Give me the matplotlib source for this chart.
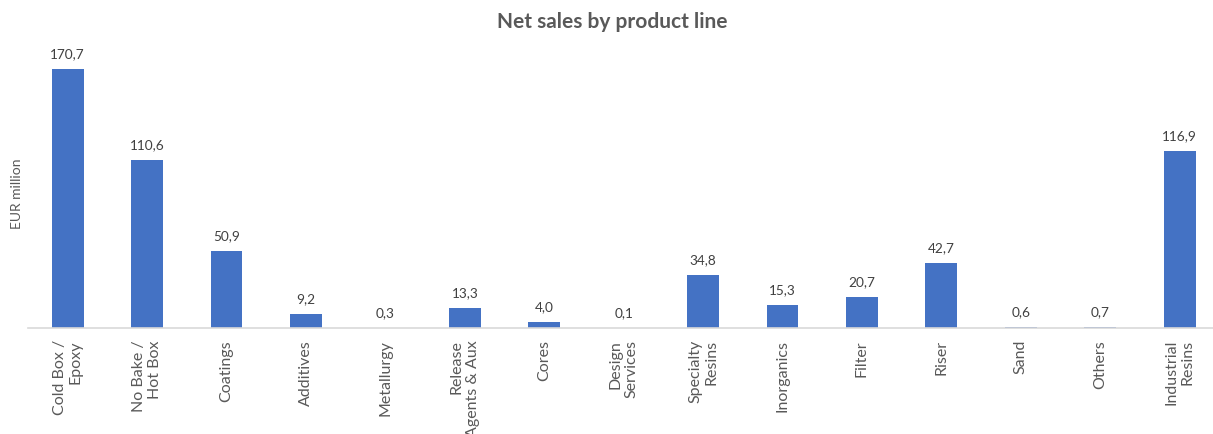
import matplotlib
matplotlib.use('Agg')
from matplotlib import pyplot as plt

# data
categories = ['Cold Box /\nEpoxy', 'No Bake /\nHot Box', 'Coatings', 'Additives',
              'Metallurgy', 'Release\nAgents & Aux', 'Cores', 'Design\nServices',
              'Specialty\nResins', 'Inorganics', 'Filter', 'Riser', 'Sand',
              'Others', 'Industrial\nResins']
net_sales = [170.7, 110.6, 50.9, 9.2, 0.3, 13.3, 4.0, 0.1,
             34.8, 15.3, 20.7, 42.7, 0.6, 0.7, 116.9]

plt.rcParams['font.family'] = ['Lato', 'DejaVu Sans']

fig = plt.figure(figsize=(12.13, 4.35), dpi=100)
ax = fig.add_axes([28 / 1213, 106 / 435, 1185 / 1213, 289 / 435])

x = list(range(len(categories)))
bars = ax.bar(x, net_sales, width=0.4, color='#4472C4')

# data labels with comma decimals
for xi, v in zip(x, net_sales):
    ax.annotate(f'{v:.1f}'.replace('.', ','), (xi, v), xytext=(0, 7),
                textcoords='offset points', ha='center', va='bottom',
                fontsize=9.8, color='#404040', clip_on=False)

ax.set_xlim(-0.5, 14.42)
ax.set_ylim(0, 190.5)
ax.set_xticks(x)
ax.set_xticklabels(categories, rotation=90, ha='center', va='top',
                   multialignment='right', fontsize=11.5, color='#595959')
ax.tick_params(axis='x', length=0, pad=8)
ax.set_yticks([])

for side in ['top', 'right', 'left']:
    ax.spines[side].set_visible(False)
ax.spines['bottom'].set_color('#d9d9d9')
ax.spines['bottom'].set_linewidth(1.2)

fig.text(612 / 1213, 1 - 22 / 435, 'Net sales by product line', ha='center',
         va='center', fontsize=15, fontweight='bold', color='#595959')
fig.text(17 / 1213, 1 - 194 / 435, 'EUR million', rotation=90, ha='center',
         va='center', fontsize=10, color='#595959')

fig.savefig('out.png', dpi=100)
